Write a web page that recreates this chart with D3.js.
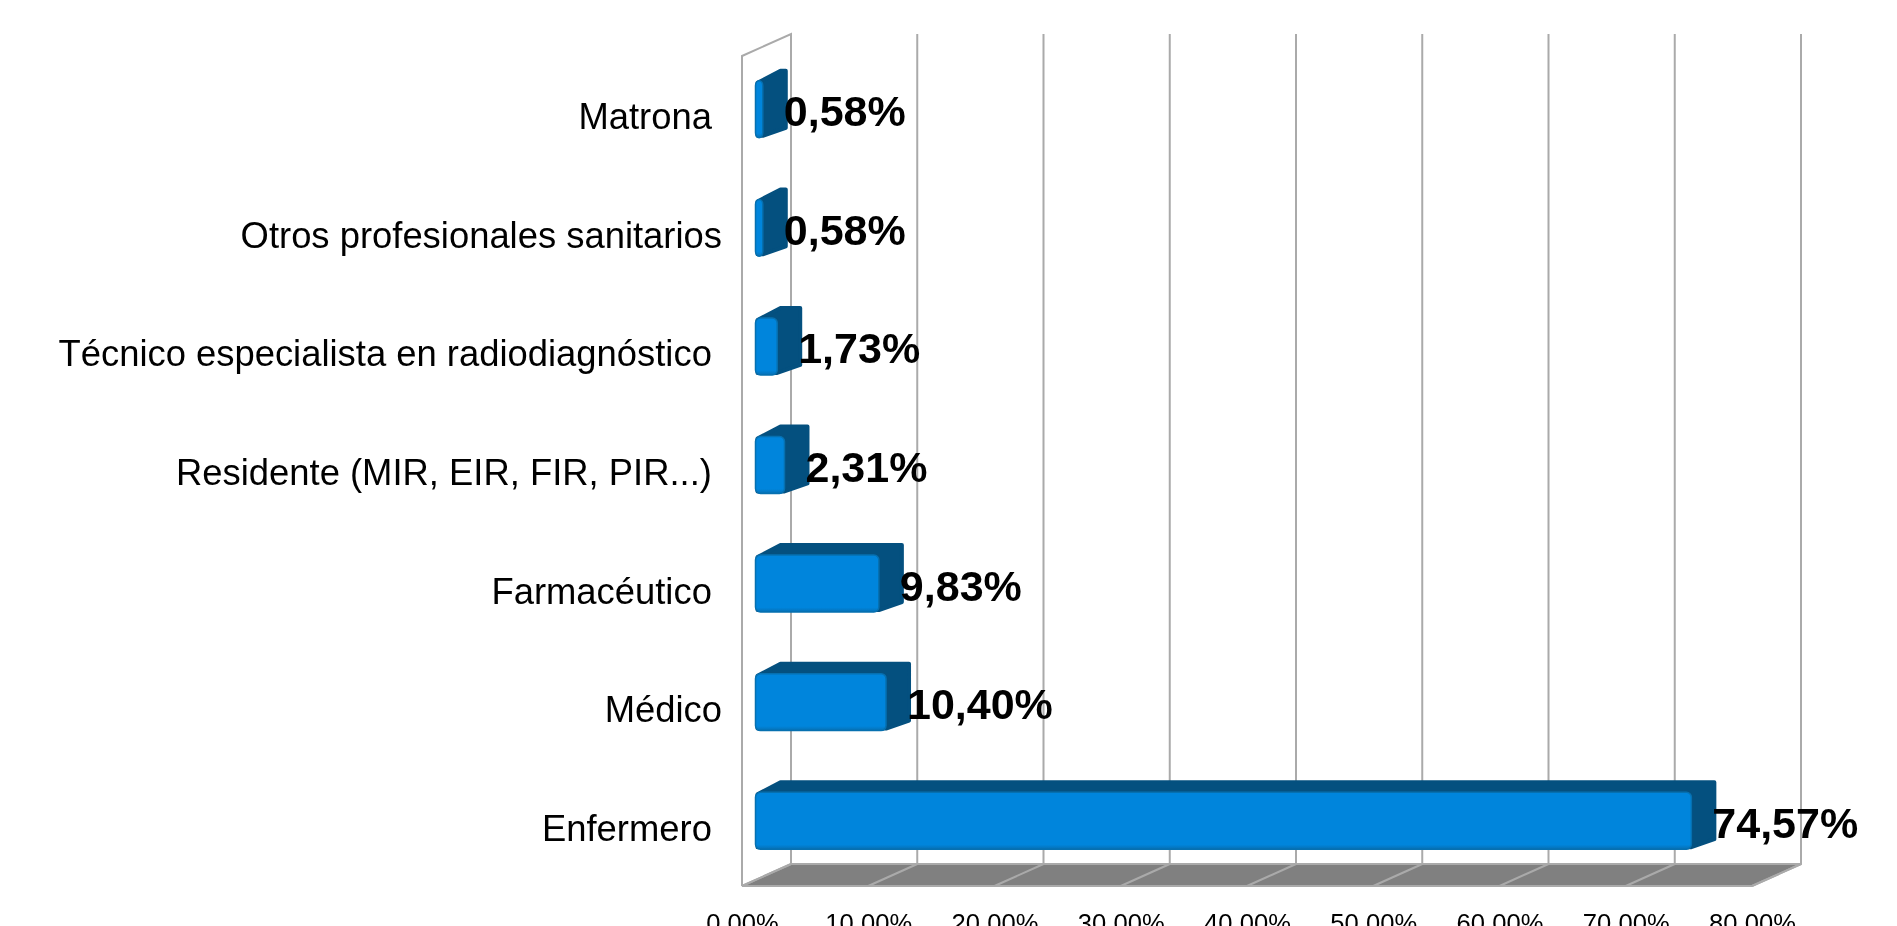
<!DOCTYPE html>
<html>
<head>
<meta charset="utf-8">
<script src="https://cdn.jsdelivr.net/npm/d3@7"></script>
<style>
html, body { margin: 0; padding: 0; background: #fff; overflow: hidden; }
text { font-family: "Liberation Sans", Arial, sans-serif; }
svg { filter: blur(0.6px); }
</style>
</head>
<body>
<div id="chart"></div>
<script>
const categories = ['Matrona ', 'Otros profesionales sanitarios', 'Técnico especialista en radiodiagnóstico ', 'Residente (MIR, EIR, FIR, PIR...) ', 'Farmacéutico ', 'Médico', 'Enfermero '];
const values = [0.58, 0.58, 1.73, 2.31, 9.83, 10.40, 74.57];
const ticks = [0, 10, 20, 30, 40, 50, 60, 70, 80];

const WIDTH = 1897;
const HEIGHT = 926;
const FRONT_LEFT = 742;
const FRONT_RIGHT = 1752;
const FRONT_BOTTOM = 886;
const WALL_DX = 49;
const WALL_DY = -22;
const WALL_TOP = 56;
const BAR_DX = 23;
const BAR_DY = -10;

const comma = n => n.toFixed(2).replace('.', ',') + '%';

const svg = d3.select('#chart')
    .append('svg')
    .attr('width', WIDTH)
    .attr('height', HEIGHT);

const xScale = d3.scaleLinear()
    .domain([0, 80])
    .range([FRONT_LEFT, FRONT_RIGHT]);

const yScale = d3.scaleBand()
    .domain(categories)
    .range([50, 880])
    .paddingInner(0.52)
    .paddingOuter(0.26);

// Left wall
svg.append('path')
    .attr('d', `M${FRONT_LEFT},${FRONT_BOTTOM}V${WALL_TOP}l${WALL_DX},${WALL_DY}V${FRONT_BOTTOM + WALL_DY}`)
    .attr('fill', 'none')
    .attr('stroke', '#aaa')
    .attr('stroke-width', 2);

// Floor
svg.append('path')
    .attr('d', `M${FRONT_LEFT},${FRONT_BOTTOM}l${WALL_DX},${WALL_DY}H${FRONT_RIGHT + WALL_DX}l${-WALL_DX},${-WALL_DY}Z`)
    .attr('fill', '#808080')
    .attr('stroke', '#aaa')
    .attr('stroke-width', 2);

// Grid lines: up the back wall, then across the floor
svg.append('g')
    .selectAll('path')
    .data(ticks)
    .enter()
    .append('path')
    .attr('d', d => `M${xScale(d)},${FRONT_BOTTOM}l${WALL_DX},${WALL_DY}V${WALL_TOP + WALL_DY}`)
    .attr('fill', 'none')
    .attr('stroke', '#aaa')
    .attr('stroke-width', 2);

// Bars
const barScale = d3.scaleLinear()
    .domain([0, 80])
    .range([755.5, 1759.5]);

const defs = svg.append('defs');
const bevel = defs.append('linearGradient')
    .attr('id', 'front-edge')
    .attr('x1', 0).attr('x2', 0).attr('y1', 0).attr('y2', 1);
bevel.append('stop').attr('offset', '0%').attr('stop-color', '#0085dc');
bevel.append('stop').attr('offset', '92%').attr('stop-color', '#0085dc');
bevel.append('stop').attr('offset', '100%').attr('stop-color', '#0670b4');

const bars = svg.append('g')
    .selectAll('g')
    .data(values)
    .enter()
    .append('g');

bars.append('path')
    .attr('d', (d, i) => {
        const x0 = barScale(0) + 2;
        const x1 = barScale(d);
        const y0 = yScale(categories[i]);
        const y1 = y0 + yScale.bandwidth();
        return `M${x0},${y0 + 2}L${x0 + BAR_DX},${y0 + BAR_DY}H${x1 + BAR_DX}V${y1 + BAR_DY}L${x1},${y1 - 2}H${x0}Z`;
    })
    .attr('fill', '#04507f')
    .attr('stroke', '#04507f')
    .attr('stroke-width', 4)
    .attr('stroke-linejoin', 'round');

bars.append('rect')
    .attr('x', barScale(0))
    .attr('y', (d, i) => yScale(categories[i]))
    .attr('width', d => barScale(d) - barScale(0))
    .attr('height', yScale.bandwidth())
    .attr('rx', 5)
    .attr('fill', 'url(#front-edge)')
    .attr('stroke', '#0670b0')
    .attr('stroke-width', 1.5);

// Value labels
svg.append('g')
    .selectAll('text')
    .data(values)
    .enter()
    .append('text')
    .attr('x', d => barScale(d) + 21)
    .attr('y', (d, i) => yScale(categories[i]) + yScale.bandwidth() / 2 + 17)
    .attr('font-size', 43)
    .attr('font-weight', 'bold')
    .attr('fill', '#000')
    .text(comma);

// Category labels
svg.append('g')
    .selectAll('text')
    .data(categories)
    .enter()
    .append('text')
    .attr('x', 722)
    .attr('y', d => yScale(d) + yScale.bandwidth() / 2 + 20)
    .attr('text-anchor', 'end')
    .attr('xml:space', 'preserve')
    .style('white-space', 'pre')
    .attr('font-size', 36.4)
    .attr('fill', '#000')
    .text(d => d);

// X axis
const xAxis = d3.axisBottom(xScale)
    .tickValues(ticks)
    .tickSize(0)
    .tickPadding(28)
    .tickFormat(comma);

svg.append('g')
    .attr('class', 'x-axis')
    .attr('transform', `translate(0, ${FRONT_BOTTOM})`)
    .call(xAxis)
    .call(g => g.select('.domain').remove())
    .selectAll('text')
    .attr('font-size', 25.6)
    .attr('font-family', '"Liberation Sans", Arial, sans-serif')
    .attr('fill', '#000');
</script>
</body>
</html>
